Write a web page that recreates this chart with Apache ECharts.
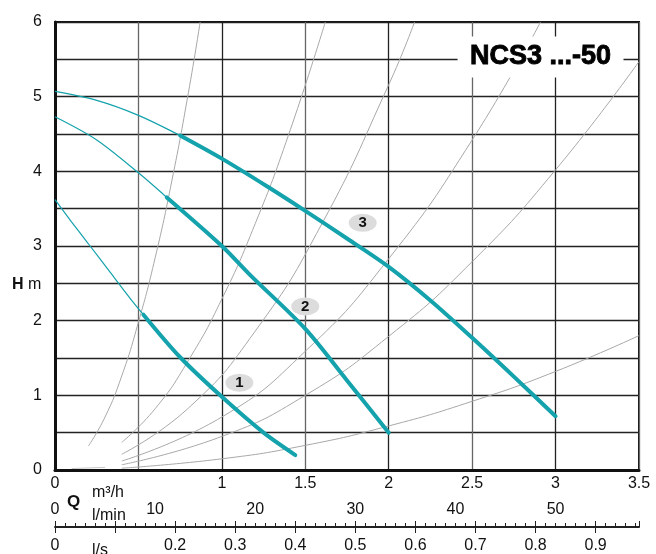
<!DOCTYPE html>
<html>
<head>
<meta charset="utf-8">
<script src="https://cdn.jsdelivr.net/npm/echarts@6/dist/echarts.min.js"></script>
<style>html,body{margin:0;padding:0;background:#fff}#c{width:656px;height:554px}</style>
</head>
<body>
<div id="c"></div>
<script>
// Pump curves (Q in m3/h, H in m)
const curve1Thin = [[0,3.62],[0.1,3.32],[0.2,3.03],[0.33,2.65],[0.45,2.3],[0.53,2.08]];
const curve1Thick = [[0.53,2.08],[0.75,1.51],[1.0,0.98],[1.25,0.5],[1.44,0.2]];
const curve2Thin = [[0,4.73],[0.25,4.42],[0.5,3.98],[0.67,3.65]];
const curve2Thick = [[0.67,3.65],[1.0,3.0],[1.17,2.61],[1.5,1.89],[1.75,1.2],[2.0,0.5]];
const curve3Thin = [[0,5.07],[0.25,4.95],[0.5,4.75],[0.75,4.48]];
const curve3Thick = [[0.75,4.48],[1.0,4.17],[1.27,3.8],[1.5,3.47],[1.75,3.1],[2.0,2.72],[2.25,2.27],[2.5,1.77],[2.75,1.25],[3.0,0.72]];
// System curves (gray)
const sysA = [[0.2,0.32],[0.3,0.71],[0.4,1.26],[0.5,1.98],[0.6,2.84],[0.7,3.87],[0.8,5.06],[0.87,6.0]];
const sysB = [[0.4,0.37],[0.6,0.82],[0.8,1.47],[1.0,2.29],[1.2,3.3],[1.4,4.49],[1.62,6.0]];
const sysC = [[0.4,0.21],[0.8,0.83],[1.2,1.86],[1.6,3.3],[2.0,5.16],[2.155,6.0]];
const sysD = [[0.4,0.12],[1.0,0.71],[1.5,1.59],[2.0,2.83],[2.5,4.42],[2.91,6.0]];
const sysE = [[0.4,0.07],[1.0,0.45],[1.5,1.0],[2.0,1.79],[2.5,2.79],[3.0,4.02],[3.5,5.47]];
const sysF = [[0.4,0.024],[1.0,0.15],[1.5,0.33],[2.0,0.59],[2.5,0.92],[3.0,1.32],[3.5,1.8]];
const originFragment = [[0.1,0.02],[0.3,0.035]];
// Curve number bubbles
const bubbles = [[1.105,1.17,'1'],[1.5,2.19,'2'],[1.844,3.31,'3']];
// Axes
const qMax = 3.5;           // m3/h
const lminMax = 3.5/0.06;   // l/min
const lsMax = 3.5/3.6;      // l/s
const titleText = 'NCS3 ...-50';

const FONT = 'Liberation Sans, Arial, sans-serif';
const TEAL = '#14a2ac';
const FS = 16;
const chart = echarts.init(document.getElementById('c'));

function sys(data){
  return {type:'line', data, smooth:true, symbol:'none', silent:true, z:2,
    lineStyle:{color:'#a8a8a8', width:1}};
}
function thin(data){
  return {type:'line', data, smooth:0.3, symbol:'none', z:4, lineStyle:{color:TEAL, width:1.2}};
}
function thick(data){
  return {type:'line', data, smooth:0.3, symbol:'none', z:5, lineStyle:{color:TEAL, width:4, cap:'round'}};
}

chart.setOption({
  animation:false,
  textStyle:{fontFamily:FONT},
  title:{text:titleText, left:458, top:37, padding:[6,12,7,12], backgroundColor:'#fff',
    textStyle:{fontSize:27, fontWeight:900, color:'#000', fontFamily:FONT, textBorderColor:'#000', textBorderWidth:0.9}, z:10},
  grid:{left:55, right:17, top:22, bottom:78, show:true, borderColor:'#111', borderWidth:2, backgroundColor:'transparent'},
  xAxis:[
    {type:'value', min:0, max:qMax, interval:0.5,
      axisLine:{show:true, lineStyle:{color:'#111', width:3}},
      axisTick:{show:false},
      axisLabel:{fontSize:FS, color:'#111', margin:6, fontFamily:FONT,
        formatter:v=>{const r=Math.round(v*10)/10; return r===0.5?'':String(r);}},
      splitLine:{show:true, lineStyle:{color:['#222','#666'], width:1.3}}},
    {type:'value', min:0, max:lminMax, interval:10, position:'bottom', offset:57,
      axisLine:{show:true, onZero:false, lineStyle:{color:'#222', width:2}},
      axisTick:{show:true, inside:true, length:4, lineStyle:{color:'#222'}},
      minorTick:{show:true, splitNumber:10, length:4, lineStyle:{color:'#222'}},
      axisLabel:{inside:true, fontSize:FS, color:'#111', margin:9, fontFamily:FONT,
        showMaxLabel:false,
        formatter:v=>{const r=Math.round(v); return (Math.abs(v-r)<1e-6 && r%10===0)?String(r):'';}},
      splitLine:{show:false}},
    {type:'value', min:0, max:lsMax, interval:0.1, position:'bottom', offset:57,
      axisLine:{show:false, onZero:false},
      axisTick:{show:true, inside:false, length:6, lineStyle:{color:'#222'}},
      axisLabel:{fontSize:FS, color:'#111', margin:11, fontFamily:FONT, showMaxLabel:false,
        formatter:v=>{const r=Math.round(v*10)/10; if(Math.abs(v-r)>1e-6) return ''; if(r===0) return '0'; if(r===0.1) return ''; return r.toFixed(1);}},
      splitLine:{show:false}},
    {type:'value', min:0, max:lsMax, interval:0.1, position:'bottom', offset:57,
      axisLine:{show:false, onZero:false},
      axisTick:{show:true, inside:true, length:6, lineStyle:{color:'#222'}},
      axisLabel:{show:false}, splitLine:{show:false}}
  ],
  yAxis:{type:'value', min:0, max:6, interval:0.5,
    axisLine:{show:true, lineStyle:{color:'#111', width:3}},
    axisTick:{show:false},
    axisLabel:{fontSize:FS, color:'#111', margin:13, fontFamily:FONT,
      formatter:v=>Number.isInteger(v)?String(v):''},
    splitLine:{show:true, lineStyle:{color:'#222', width:1.3}}},
  graphic:[
    {type:'text', left:12, top:277, style:{text:'{b|H} m', rich:{b:{fontWeight:'bold', fontSize:16, fontFamily:FONT}}, font:'16px '+FONT, fill:'#111'}},
    {type:'text', left:67, top:494, style:{text:'Q', font:'bold 17px '+FONT, fill:'#111'}},
    {type:'text', left:92, top:485, style:{text:'m³/h', font:'16px '+FONT, fill:'#111'}},
    {type:'text', left:92, top:508, style:{text:'l/min', font:'16px '+FONT, fill:'#111'}},
    {type:'text', left:92, top:543, style:{text:'l/s', font:'16px '+FONT, fill:'#111'}}
  ],
  series:[
    sys(sysA), sys(sysB), sys(sysC), sys(sysD), sys(sysE), sys(sysF),
    {type:'line', data:originFragment, symbol:'none', z:2, lineStyle:{color:'#c8c8c8', width:1}},
    thin(curve1Thin), thick(curve1Thick),
    thin(curve2Thin), thick(curve2Thick),
    thin(curve3Thin), thick(curve3Thick),
    {type:'scatter', data:bubbles, symbol:'circle', symbolSize:[28,18], z:8,
      itemStyle:{color:'#dcdcdc', opacity:1},
      label:{show:true, position:'inside', formatter:p=>p.data[2], fontWeight:'bold', fontSize:15, color:'#111', textBorderWidth:0, fontFamily:FONT}}
  ]
});
</script>
</body>
</html>
